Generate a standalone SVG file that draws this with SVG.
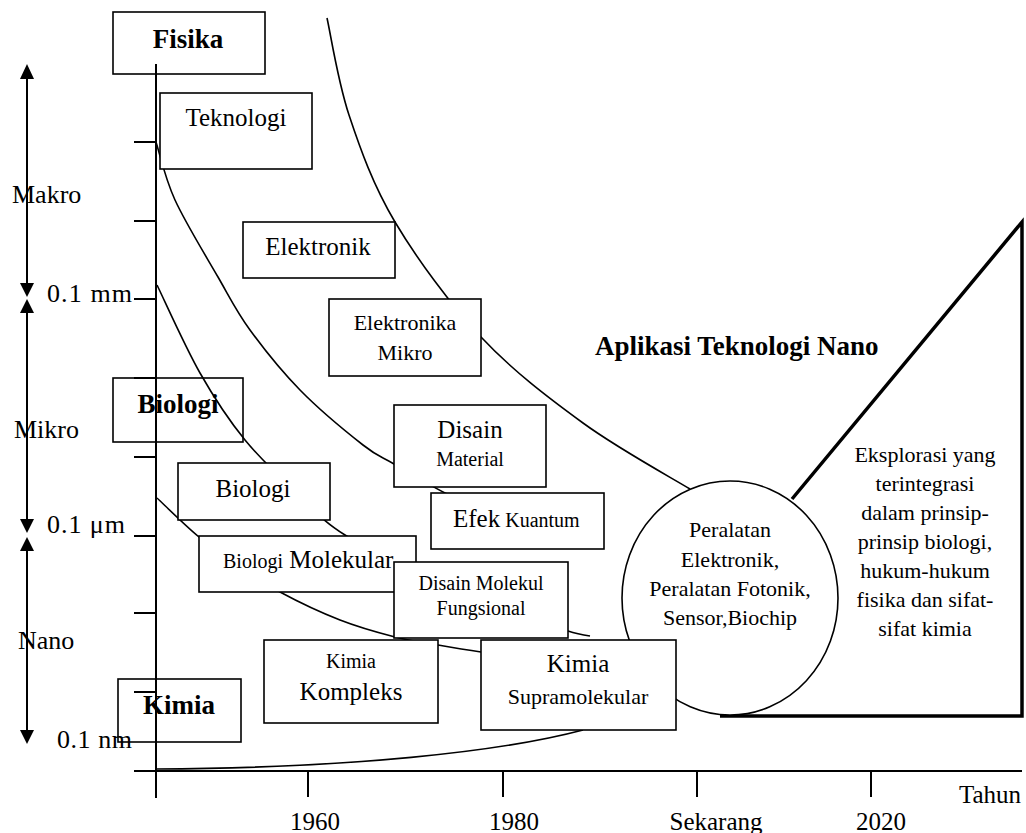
<svg xmlns="http://www.w3.org/2000/svg" width="1026" height="833" viewBox="0 0 1026 833">
<style>
text{font-family:"Liberation Serif","Times New Roman",serif;fill:#000}
.box{fill:#fff;stroke:#000;stroke-width:1.6}
.obox{fill:none;stroke:#000;stroke-width:1.6}
.ln{stroke:#000;stroke-width:2;fill:none}
.cv{stroke:#000;stroke-width:1.6;fill:none}
.t26{font-size:26px}
.t25{font-size:25px}
.t22{font-size:22px}
.t20{font-size:20px}
.b{font-weight:bold;font-size:27px}
.m{text-anchor:middle}
</style>
<rect width="1026" height="833" fill="#fff"/>
<g id="scale">
<line class="ln" x1="27" y1="78" x2="27" y2="284"/>
<polygon points="27,64 20,79 34,79"/>
<polygon points="20,283 34,283 27,297"/>
<polygon points="27,299 20,313 34,313"/>
<line class="ln" x1="27" y1="312" x2="27" y2="520"/>
<polygon points="20,519 34,519 27,533"/>
<polygon points="27,537 20,551 34,551"/>
<line class="ln" x1="27" y1="550" x2="27" y2="731"/>
<polygon points="20,730 34,730 27,744"/>
<text class="t26" x="12" y="203">Makro</text>
<text class="t26" x="47" y="302" textLength="85" lengthAdjust="spacing">0.1 mm</text>
<text class="t26" x="14" y="438">Mikro</text>
<text class="t26" x="47" y="533" textLength="78" lengthAdjust="spacing">0.1 μm</text>
<text class="t26" x="18" y="649">Nano</text>
<text class="t26" x="57" y="748" textLength="75" lengthAdjust="spacing">0.1 nm</text>
</g>
<g id="axes">
<line class="ln" x1="156" y1="64" x2="156" y2="798"/>
<line class="ln" x1="134" y1="771" x2="1022" y2="771"/>
<path class="ln" d="M134,142H156M134,221H156M134,299H156M134,378H156M134,457H156M134,536H156M134,613H156M134,692H156"/>
<path class="ln" d="M308,771V797M503,771V797M697,771V797M871,771V797"/>
<text class="t25 m" x="315" y="830">1960</text>
<text class="t25 m" x="514" y="830">1980</text>
<text class="t25 m" x="716" y="830">Sekarang</text>
<text class="t25 m" x="881" y="830">2020</text>
<text class="t25" x="959" y="803">Tahun</text>
</g>
<g id="connectors">
<path class="cv" d="M327,18 C330.7,34.2 337.7,81 349,115 C360.3,149 373,185 395,222 C417,259 449.7,303.5 481,337 C512.3,370.5 548.5,397.8 583,423 C617.5,448.2 670.5,477.2 690,489"/>
<path class="cv" d="M156,142 C159.2,151.7 164.7,177.5 175,200 C185.3,222.5 205.5,255.3 218,277 C230.5,298.7 236.3,311.2 250,330 C263.7,348.8 281.2,370.8 300,390 C318.8,409.2 347.3,432.7 363,445 C378.7,457.3 380.3,456 394,464 C407.7,472 429,485 445,493 C461,501 482.5,508.8 490,512"/>
<path class="cv" d="M157,285 C164.2,299.7 185.3,347.2 200,373 C214.7,398.8 228.3,419.5 245,440 C261.7,460.5 283.3,480.2 300,496 C316.7,511.8 320,519 345,535 C370,551 412.8,576 450,592 C487.2,608 544.7,623.7 568,631 C575.3,633.3 582.7,634.8 590,636"/>
<path class="cv" d="M157,498 C164,504.5 185.2,525.7 199,537 C212.8,548.3 226.5,556.8 240,566 C253.5,575.2 263.3,583 280,592 C296.7,601 320.8,612.5 340,620 C359.2,627.5 378.7,632.8 395,637 C411.3,641.2 423.7,642.5 438,645 C452.3,647.5 467.3,650 481,652 C494.7,654 513.5,656.2 520,657"/>
<path class="cv" d="M156,769 C350,768 500,752 583,730"/>
</g>
<g id="triangle">
<path d="M792,499 L1022,222 L1022,716 L720,716" fill="none" stroke="#000" stroke-width="3.5" stroke-linejoin="miter"/>
<text class="t22 m" x="925" y="462">Eksplorasi yang</text>
<text class="t22 m" x="925" y="491">terintegrasi</text>
<text class="t22 m" x="925" y="520">dalam prinsip-</text>
<text class="t22 m" x="925" y="549">prinsip  biologi,</text>
<text class="t22 m" x="925" y="578">hukum-hukum</text>
<text class="t22 m" x="925" y="607">fisika dan sifat-</text>
<text class="t22 m" x="925" y="636">sifat kimia</text>
</g>
<g id="circle">
<ellipse cx="730" cy="598" rx="108" ry="117" fill="#fff" stroke="#000" stroke-width="1.6"/>
<text class="t22 m" x="730" y="537">Peralatan</text>
<text class="t22 m" x="730" y="567">Elektronik,</text>
<text class="t22 m" x="730" y="596">Peralatan Fotonik,</text>
<text class="t22 m" x="730" y="625">Sensor,Biochip</text>
</g>
<g id="fisika">
<rect class="obox" x="113" y="12" width="152" height="62"/>
<text class="b m" x="188" y="48">Fisika</text>
</g>
<g id="teknologi">
<rect class="box" x="160" y="93" width="152" height="76"/>
<text class="t25 m" x="236" y="126">Teknologi</text>
</g>
<g id="elektronik">
<rect class="box" x="243" y="222" width="152" height="56"/>
<text class="t25 m" x="318" y="255">Elektronik</text>
</g>
<g id="elektronika-mikro">
<rect class="box" x="329" y="299" width="152" height="77"/>
<text class="t22 m" x="405" y="330">Elektronika</text>
<text class="t22 m" x="405" y="360">Mikro</text>
</g>
<g id="biologi-bold">
<rect class="obox" x="113" y="378" width="130" height="64"/>
<text class="b m" x="178" y="413">Biologi</text>
</g>
<g id="disain-material">
<rect class="box" x="394" y="405" width="152" height="82"/>
<text class="t25 m" x="470" y="438">Disain</text>
<text class="t20 m" x="470" y="466">Material</text>
</g>
<g id="biologi">
<rect class="box" x="178" y="463" width="152" height="57"/>
<text class="t25 m" x="253" y="497">Biologi</text>
</g>
<g id="efek-kuantum">
<rect class="box" x="431" y="493" width="173" height="56"/>
<text x="453" y="527"><tspan class="t25">Efek</tspan><tspan class="t20"> Kuantum</tspan></text>
</g>
<g id="biologi-molekular">
<rect class="box" x="199" y="536" width="217" height="56"/>
<text x="223" y="568"><tspan class="t20">Biologi</tspan><tspan class="t25"> Molekular</tspan></text>
</g>
<g id="disain-molekul">
<rect class="box" x="394" y="562" width="174" height="76"/>
<text class="t20 m" x="481" y="590">Disain Molekul</text>
<text class="t20 m" x="481" y="615">Fungsional</text>
</g>
<g id="kimia-kompleks">
<rect class="box" x="264" y="640" width="174" height="83"/>
<text class="t20 m" x="351" y="668">Kimia</text>
<text class="t25 m" x="351" y="700">Kompleks</text>
</g>
<g id="kimia-supramolekular">
<rect class="box" x="481" y="640" width="195" height="90"/>
<text class="t25 m" x="578" y="672">Kimia</text>
<text class="t22 m" x="578" y="704">Supramolekular</text>
</g>
<g id="kimia-bold">
<rect class="obox" x="118" y="679" width="123" height="63"/>
<text class="b m" x="179" y="714">Kimia</text>
</g>
<g id="title">
<text class="b" x="595" y="355">Aplikasi Teknologi Nano</text>
</g>
</svg>
